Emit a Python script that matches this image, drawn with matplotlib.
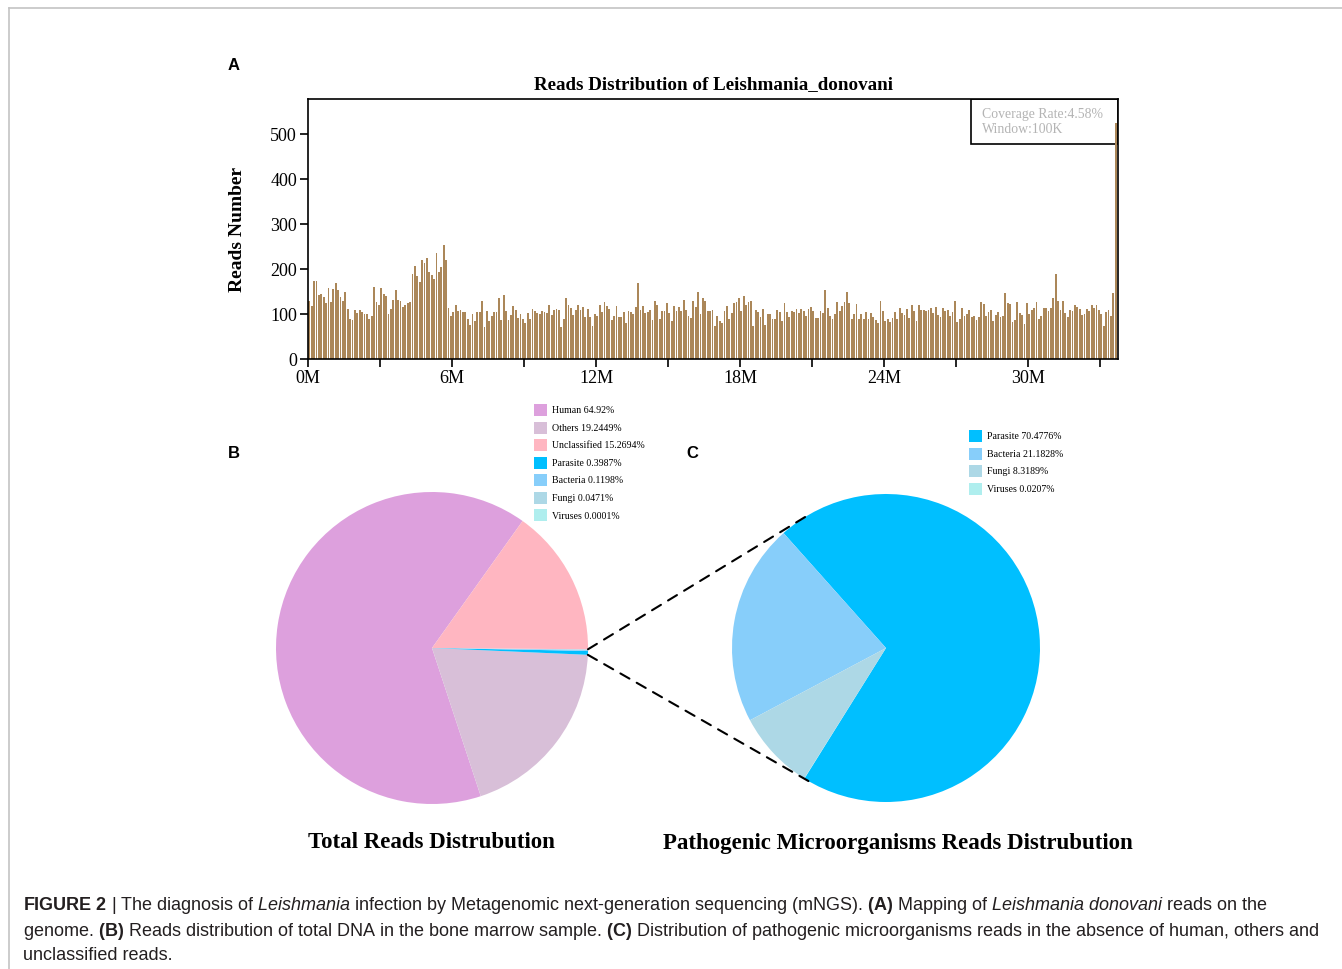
import numpy as np
import matplotlib
matplotlib.use('Agg')
import matplotlib.pyplot as plt
from matplotlib.patches import Rectangle, Patch, ConnectionPatch
from matplotlib.lines import Line2D

# reads per 100K window along the Leishmania donovani genome
reads = [
    130, 118, 173, 173, 143, 144, 137, 125, 157, 127,
    156, 170, 153, 137, 130, 148, 112, 89, 86, 110,
    102, 110, 104, 101, 101, 90, 96, 160, 127, 121,
    158, 144, 140, 99, 112, 131, 154, 131, 130, 115,
    119, 125, 127, 188, 207, 184, 172, 219, 214, 224,
    193, 187, 178, 235, 193, 204, 253, 220, 114, 95,
    104, 121, 107, 110, 104, 104, 89, 76, 101, 84,
    104, 104, 130, 71, 107, 84, 95, 104, 105, 135,
    87, 142, 107,
    87, 97, 118, 110, 92, 101, 89, 79, 102, 88,
    111, 107, 103, 100, 106, 104, 102, 121, 97, 110,
    112, 110, 71, 90, 136, 119, 113, 98, 109, 121,
    110, 115, 93, 112, 94, 73, 99, 96, 119, 104,
    126, 118, 111, 87, 96, 118, 94, 93, 105, 81,
    107, 104, 101, 115, 170, 110, 117, 102, 104, 110,
    86, 128, 120, 90, 106, 106, 124, 102, 84, 117,
    106, 115, 107, 132, 109, 96, 92, 130, 116, 150,
    101, 136, 130, 106,
    107, 110, 73, 95, 84, 79, 107, 118, 89, 103,
    124, 126, 136, 107, 141, 121, 126, 130, 73, 108,
    104, 93, 112, 76, 99, 99, 89, 89, 110, 104,
    84, 124, 104, 93, 107, 104, 111, 102, 111, 106,
    96, 111, 115, 107, 92, 91, 106, 102, 154, 114,
    95, 89, 101, 126, 107, 118, 126, 148, 124, 90,
    99, 122, 90, 101, 89, 105, 89, 103, 93, 86,
    80, 128, 106, 84, 89, 83, 91,
    105, 88, 114, 102, 98, 111, 91, 121, 107, 84,
    121, 108, 108, 107, 109, 113, 102, 116, 97, 94,
    113, 106, 110, 95, 105, 129, 82, 90, 114, 96,
    99, 108, 93, 96, 87, 94, 126, 123, 96, 104,
    108, 84, 98, 104, 93,
    96, 146, 124, 122, 83, 87, 126, 102, 98, 77,
    124, 101, 110, 113, 126, 90, 96, 113, 113, 107,
    113, 135, 188, 128, 109, 130, 102, 93, 108, 106,
    121, 115, 111, 98, 99, 111, 107, 120, 113, 121,
    110, 100, 74, 104, 110, 96, 146, 525,
]
window_mb = 0.1
genome_mb = 33.75
y_ticks = [0, 100, 200, 300, 400, 500]

total_names = ['Human', 'Others', 'Unclassified', 'Parasite', 'Bacteria', 'Fungi', 'Viruses']
total_pct = [64.92, 19.2449, 15.2694, 0.3987, 0.1198, 0.0471, 0.0001]
total_colors = ['#DDA0DD', '#D8BFD8', '#FFB6C1', '#00BFFF', '#87CEFA', '#ADD8E6', '#AFEEEE']
total_draw_order = [0, 1, 3, 4, 5, 6, 2]

patho_names = ['Parasite', 'Bacteria', 'Fungi', 'Viruses']
patho_pct = [70.4776, 21.1828, 8.3189, 0.0207]
patho_colors = ['#00BFFF', '#87CEFA', '#ADD8E6', '#AFEEEE']

caption_lines = [
    r"$\mathbf{FIGURE\ 2}$ | The diagnosis of $\mathit{Leishmania}$ infection by Metagenomic "
    r"next-generation sequencing (mNGS). $\mathbf{(A)}$ Mapping of $\mathit{Leishmania\ donovani}$ reads on the",
    r"genome. $\mathbf{(B)}$ Reads distribution of total DNA in the bone marrow sample. "
    r"$\mathbf{(C)}$ Distribution of pathogenic microorganisms reads in the absence of human, others and",
    "unclassified reads.",
]

SERIF = 'Liberation Serif'
SANS = 'Liberation Sans'
plt.rcParams['mathtext.fontset'] = 'custom'
plt.rcParams['mathtext.rm'] = SANS
plt.rcParams['mathtext.it'] = SANS + ':italic'
plt.rcParams['mathtext.bf'] = SANS + ':bold'

W, H = 1342, 969
fig = plt.figure(figsize=(W / 100, H / 100), dpi=100)


def rect(left, top, right, bottom):
    return [left / W, 1 - bottom / H, (right - left) / W, (bottom - top) / H]


def fx(px):
    return px / W


def fy(py):
    return 1 - py / H


# page frame
fig.add_artist(Line2D([fx(9), 1], [fy(8), fy(8)], transform=fig.transFigure, color='#c4c4c4', lw=1.2))
fig.add_artist(Line2D([fx(9), fx(9)], [0, fy(8)], transform=fig.transFigure, color='#c4c4c4', lw=1.2))

# ---- A: reads distribution
ax = fig.add_axes(rect(308, 99, 1118, 359))
xpos = (np.arange(len(reads)) + 0.5) * window_mb
ax.bar(xpos, reads, width=window_mb * 0.75, color='#ab8759', linewidth=0, zorder=4)
ax.set_xlim(0, genome_mb)
ax.set_ylim(0, 578)
xt = np.arange(0, 34, 3)
ax.set_xticks(xt)
ax.set_xticklabels([f'{v}M' if v % 6 == 0 else '' for v in xt])
ax.set_yticks(y_ticks)
ax.tick_params(direction='out', length=6, width=1.2, labelsize=13, pad=2)
for lab in ax.get_xticklabels() + ax.get_yticklabels():
    lab.set_fontfamily(SERIF)
for sp in ax.spines.values():
    sp.set_linewidth(1.2)
    sp.set_zorder(5)
ax.set_title('Reads Distribution of Leishmania_donovani', fontfamily=SERIF,
             fontweight='bold', fontsize=13.7, pad=7)
ax.set_ylabel('Reads Number', fontfamily=SERIF, fontweight='bold', fontsize=14)
ax.yaxis.set_label_coords(-0.0765, 0.5)
ax.add_patch(Rectangle((0.8185, 0.827), 0.1815, 0.173, transform=ax.transAxes,
                       facecolor='none', edgecolor='black', lw=1.2, zorder=3))
ax.text(0.832, 0.913, 'Coverage Rate:4.58%\nWindow:100K', transform=ax.transAxes,
        fontfamily=SERIF, fontsize=9.9, color='#b4b4b4', va='center', ha='left',
        linespacing=1.2, zorder=3)

# ---- B: total reads pie
axb = fig.add_axes(rect(276, 492, 588, 804))
wedges_b, _ = axb.pie([total_pct[i] for i in total_draw_order],
                      colors=[total_colors[i] for i in total_draw_order],
                      startangle=54.5, counterclock=True,
                      wedgeprops=dict(linewidth=0))
axb.set_xlim(-1, 1)
axb.set_ylim(-1, 1)

# ---- C: pathogenic pie
axc = fig.add_axes(rect(732, 494, 1040, 802))
wedges_c, _ = axc.pie(patho_pct, colors=patho_colors, startangle=238,
                      counterclock=True, wedgeprops=dict(linewidth=0))
axc.set_xlim(-1, 1)
axc.set_ylim(-1, 1)

# zoom lines from the pathogen sliver of B to pie C
sliver_lo = wedges_b[2].theta1
sliver_hi = wedges_b[5].theta2
for tb, tc in [(sliver_hi, 120), (sliver_lo, 240)]:
    a = np.deg2rad(tb)
    c = np.deg2rad(tc)
    con = ConnectionPatch(xyA=(np.cos(a), np.sin(a)), coordsA=axb.transData,
                          xyB=(np.cos(c), np.sin(c)), coordsB=axc.transData,
                          color='black', lw=1.5, linestyle=(0, (5, 4)))
    fig.add_artist(con)

# legends
leg_kw = dict(frameon=False, loc='upper left', bbox_transform=fig.transFigure,
              prop={'family': SERIF, 'size': 7.1}, handlelength=1.35,
              handleheight=1.5, handletextpad=0.45, labelspacing=0.56,
              borderpad=0, borderaxespad=0)
hb = [Patch(facecolor=c, edgecolor='none') for c in total_colors]
lb = [f'{n} {p:g}%' for n, p in zip(total_names, total_pct)]
fig.legend(hb, lb, bbox_to_anchor=(fx(534), fy(404)), **leg_kw)
hc = [Patch(facecolor=c, edgecolor='none') for c in patho_colors]
lc = [f'{n} {p:g}%' for n, p in zip(patho_names, patho_pct)]
fig.legend(hc, lc, bbox_to_anchor=(fx(969), fy(430)), **leg_kw)

# pie titles
fig.text(fx(431), fy(843), 'Total Reads Distrubution', fontfamily=SERIF,
         fontweight='bold', fontsize=16.5, ha='center', va='center')
fig.text(fx(898), fy(843), 'Pathogenic Microorganisms Reads Distrubution', fontfamily=SERIF,
         fontweight='bold', fontsize=16.5, ha='center', va='center')

# panel letters
for letter, px, py in [('A', 228, 65), ('B', 228, 453), ('C', 686, 453)]:
    fig.text(fx(px), fy(py), letter, fontfamily=SANS, fontweight='bold',
             fontsize=12, ha='left', va='center')

# caption
for i, line in enumerate(caption_lines):
    fig.text(fx(23), fy(906 + 25 * i), line, fontfamily=SANS, fontsize=13,
             color='#231f20', ha='left', va='center')

fig.savefig('out.png', dpi=100)
